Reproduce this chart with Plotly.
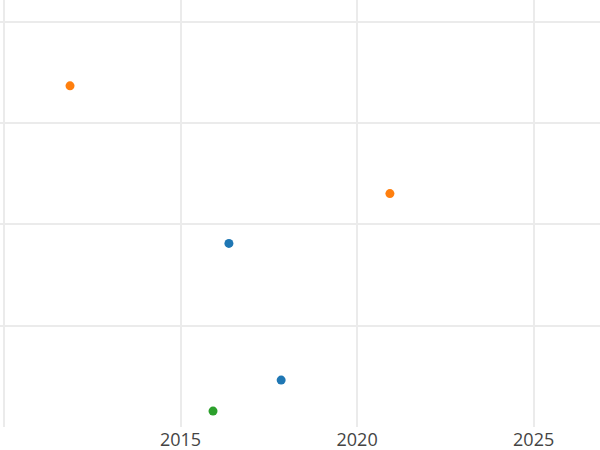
import plotly.graph_objects as go

# series data (x = year, y = value)
blue_x = [2016.37, 2017.85]
blue_y = [1.813, 0.463]
orange_x = [2011.87, 2020.93]
orange_y = [3.369, 2.305]
green_x = [2015.92]
green_y = [0.157]

fig = go.Figure()
fig.add_trace(go.Scatter(x=blue_x, y=blue_y, mode="markers",
                         marker=dict(color="#1f77b4", size=9)))
fig.add_trace(go.Scatter(x=orange_x, y=orange_y, mode="markers",
                         marker=dict(color="#ff7f0e", size=9)))
fig.add_trace(go.Scatter(x=green_x, y=green_y, mode="markers",
                         marker=dict(color="#2ca02c", size=9)))

fig.update_layout(
    width=600, height=450,
    margin=dict(l=0, r=0, t=0, b=23),
    showlegend=False,
    plot_bgcolor="white", paper_bgcolor="white",
    font=dict(family="Open Sans, verdana, arial, sans-serif", size=18, color="#444"),
    xaxis=dict(range=[2009.887, 2026.88], tick0=2010, dtick=5,
               showgrid=True, gridcolor="#ebebeb", gridwidth=1.5,
               zeroline=False, showline=False, ticks=""),
    yaxis=dict(range=[0.0, 4.217], tick0=0, dtick=1,
               showgrid=True, gridcolor="#ebebeb", gridwidth=1.5,
               zeroline=False, showline=False, showticklabels=False, ticks=""),
)

fig.write_html("out.html", config={"displayModeBar": False},
               post_script="document.body.style.margin='0';")
